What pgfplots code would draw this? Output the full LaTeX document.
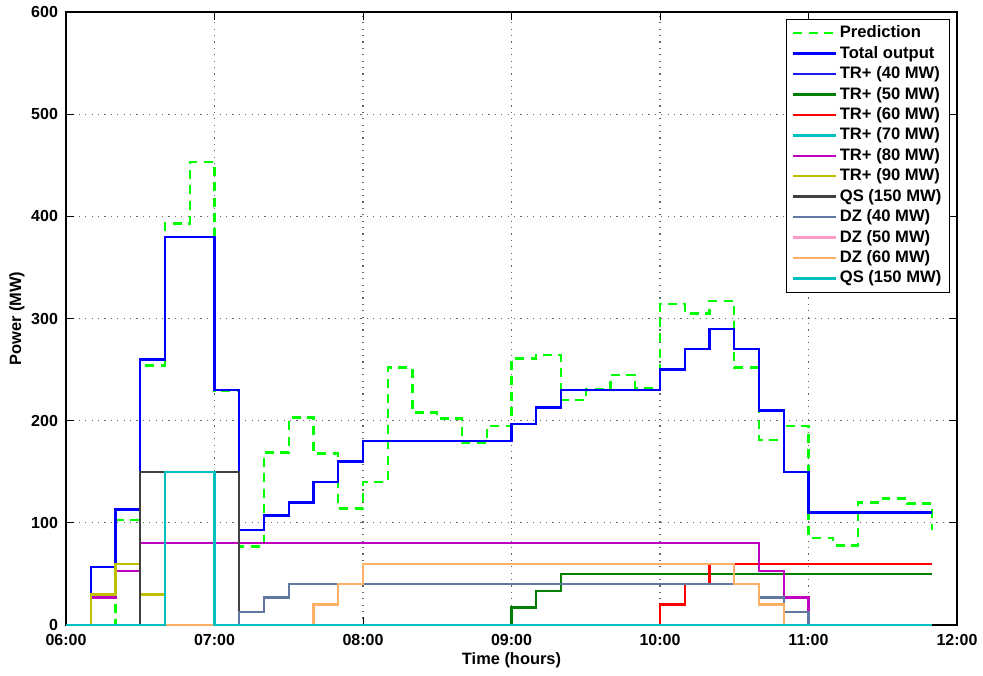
\documentclass[border=0pt]{standalone}
\usepackage{fontspec}
\setmainfont{Liberation Sans}
\usepackage{pgfplots}
\usepackage{pgfplotstable}
\pgfplotsset{compat=1.18}

\definecolor{cTRa}{rgb}{0.1,0.1,1}
\definecolor{cTRb}{rgb}{0,0.5,0}
\definecolor{cTRc}{rgb}{1,0,0}
\definecolor{cTRd}{rgb}{0,0.75,0.75}
\definecolor{cTRe}{rgb}{0.75,0,0.75}
\definecolor{cTRf}{rgb}{0.75,0.75,0}
\definecolor{cQS}{rgb}{0.25,0.25,0.25}
\definecolor{cDZa}{rgb}{0.38,0.47,0.64}
\definecolor{cDZb}{rgb}{1,0.6,0.78}
\definecolor{cDZc}{rgb}{1,0.69,0.4}
\definecolor{cQSb}{rgb}{0,0.75,0.75}

\pgfplotstableread{
t   pred total tr40 tr50 tr60 tr70 tr80 tr90 qs  dz40 dz50 dz60 qs2
0   0    0     0    0    0    0    0    0    0   0    0    0    0
10  0    57    0    0    0    0    27   30   0   0    0    0    0
20  103  113   0    0    0    0    53   60   0   0    0    0    0
30  254  260   0    0    0    0    80   30   150 0    0    0    0
40  393  380   0    0    0    0    80   0    150 0    0    0    150
50  453  380   0    0    0    0    80   0    150 0    0    0    150
60  229  230   0    0    0    0    80   0    150 0    0    0    0
70  77   93    0    0    0    0    80   0    0   13   0    0    0
80  169  107   0    0    0    0    80   0    0   27   0    0    0
90  203  120   0    0    0    0    80   0    0   40   0    0    0
100 168  140   0    0    0    0    80   0    0   40   0    20   0
110 114  160   0    0    0    0    80   0    0   40   0    40   0
120 140  180   0    0    0    0    80   0    0   40   0    60   0
130 252  180   0    0    0    0    80   0    0   40   0    60   0
140 208  180   0    0    0    0    80   0    0   40   0    60   0
150 202  180   0    0    0    0    80   0    0   40   0    60   0
160 178  180   0    0    0    0    80   0    0   40   0    60   0
170 195  180   0    0    0    0    80   0    0   40   0    60   0
180 261  197   0    17   0    0    80   0    0   40   0    60   0
190 264  213   0    33   0    0    80   0    0   40   0    60   0
200 220  230   0    50   0    0    80   0    0   40   0    60   0
210 231  230   0    50   0    0    80   0    0   40   0    60   0
220 245  230   0    50   0    0    80   0    0   40   0    60   0
230 232  230   0    50   0    0    80   0    0   40   0    60   0
240 314  250   0    50   20   0    80   0    0   40   0    60   0
250 305  270   0    50   40   0    80   0    0   40   0    60   0
260 317  290   0    50   60   0    80   0    0   40   0    60   0
270 252  270   0    50   60   0    80   0    0   40   0    40   0
280 181  210   0    50   60   0    53   0    0   27   0    20   0
290 195  150   0    50   60   0    27   0    0   13   0    0    0
300 85   110   0    50   60   0    0    0    0   0    0    0    0
310 78   110   0    50   60   0    0    0    0   0    0    0    0
320 120  110   0    50   60   0    0    0    0   0    0    0    0
330 124  110   0    50   60   0    0    0    0   0    0    0    0
340 119  110   0    50   60   0    0    0    0   0    0    0    0
350 93   110   0    50   60   0    0    0    0   0    0    0    0
}\data

\begin{document}
\begin{tikzpicture}
\useasboundingbox (-33pt,-25pt) rectangle (458.5pt,312.5pt);
\begin{axis}[
  scale only axis,
  width=445.5pt, height=306.5pt,
  at={(0,0)}, anchor=south west,
  xmin=0, xmax=360, ymin=0, ymax=600,
  xtick={0,60,120,180,240,300,360},
  xticklabels={06:00,07:00,08:00,09:00,10:00,11:00,12:00},
  ytick={0,100,200,300,400,500,600},
  /pgf/number format/assume math mode=true,
  font=\fontsize{8.2}{9.5}\selectfont\bfseries,
  tick label style={font=\fontsize{8}{9.5}\selectfont\bfseries},
  xticklabel style={anchor=base, yshift=-10pt},
  yticklabel style={anchor=east, xshift=-0.5pt},
  tick align=inside,
  major tick length=4pt,
  tick style={black, line width=0.5pt},
  axis line style={black, line width=0.6pt},
  grid=major,
  major grid style={gray!80!black, line width=0.55pt, dash pattern=on 0.6pt off 2.6pt},
  xlabel={Time (hours)},
  ylabel={Power (MW)},
  xlabel style={at={(axis description cs:0.5,0)}, anchor=base, yshift=-19.5pt},
  ylabel style={at={(axis description cs:0,0.5)}, anchor=center, yshift=24.5pt},
  clip=false,
  every axis plot/.append style={line width=1.2pt, const plot, mark=none},
  legend image code/.code={\draw[#1] (0pt,0pt) -- (21.5pt,0pt);},
  legend style={at={(1,1)}, anchor=north east, xshift=-3.5pt, yshift=-3.5pt,
    draw=black, line width=0.5pt, fill=white,
    font=\fontsize{8.3}{9.5}\selectfont\bfseries,
    inner xsep=3pt, inner ysep=2pt, row sep=0.5pt,
    nodes={inner sep=1.1pt},
    cells={anchor=west}},
]
\addplot[color=green, dash pattern=on 4.5pt off 3.2pt] table[x=t,y=pred]{\data};
\addlegendentry{Prediction}
\addplot[color=blue] table[x=t,y=total]{\data};
\addlegendentry{Total output}
\addplot[color=cTRa] table[x=t,y=tr40]{\data};
\addlegendentry{TR+ (40 MW)}
\addplot[color=cTRb] table[x=t,y=tr50]{\data};
\addlegendentry{TR+ (50 MW)}
\addplot[color=cTRc] table[x=t,y=tr60]{\data};
\addlegendentry{TR+ (60 MW)}
\addplot[color=cTRd] table[x=t,y=tr70]{\data};
\addlegendentry{TR+ (70 MW)}
\addplot[color=cTRe] table[x=t,y=tr80]{\data};
\addlegendentry{TR+ (80 MW)}
\addplot[color=cTRf] table[x=t,y=tr90]{\data};
\addlegendentry{TR+ (90 MW)}
\addplot[color=cQS] table[x=t,y=qs]{\data};
\addlegendentry{QS (150 MW)}
\addplot[color=cDZa] table[x=t,y=dz40]{\data};
\addlegendentry{DZ (40 MW)}
\addplot[color=cDZb] table[x=t,y=dz50]{\data};
\addlegendentry{DZ (50 MW)}
\addplot[color=cDZc] table[x=t,y=dz60]{\data};
\addlegendentry{DZ (60 MW)}
\addplot[color=cQSb] table[x=t,y=qs2]{\data};
\addlegendentry{QS (150 MW)}
\end{axis}
\end{tikzpicture}
\end{document}
